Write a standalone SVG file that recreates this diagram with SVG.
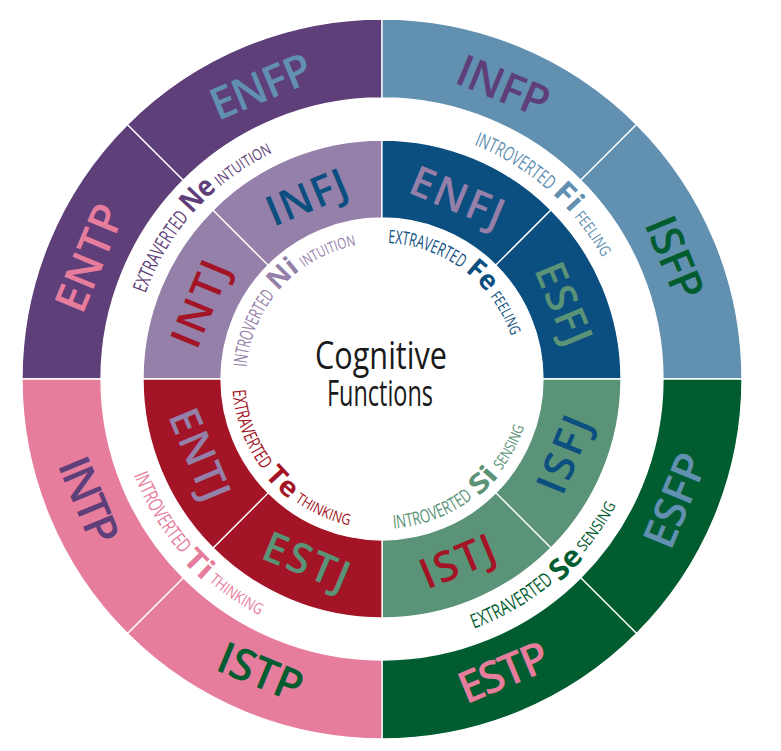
<svg xmlns="http://www.w3.org/2000/svg" xmlns:xlink="http://www.w3.org/1999/xlink" width="781" height="751" viewBox="0 0 781 751">
<style>
.sec{stroke:#fff;stroke-width:1.3;stroke-linejoin:miter}
.big{font-family:"Open Sans","Noto Sans","Liberation Sans",sans-serif;font-weight:600;text-anchor:middle}
.o{font-size:44px}
.i{font-size:42px}
.cv{font-family:"Open Sans","Noto Sans","Liberation Sans",sans-serif;text-anchor:middle}
.w1{font-size:20px;font-weight:500}
.w2{font-size:29px;font-weight:700}
.w3{font-size:15.5px;font-weight:500}
.v1{font-size:18.5px;font-weight:500}
.v2{font-size:27px;font-weight:700}
.v3{font-size:15px;font-weight:500}
.ctr{font-family:"Open Sans","Noto Sans","Liberation Sans",sans-serif;font-weight:500;fill:#1a1a1a}
.dp{fill:#5f3f79}.lp{fill:#9580a9}.sb{fill:#6190b1}.db{fill:#0b4e80}
.pk{fill:#e77d9d}.rd{fill:#a31526}.dg{fill:#015c30}.mg{fill:#5b9378}
</style>
<defs>
<path id="pto" d="M130.5,379 A251.5,251.5 0 0 1 633.5,379"/>
<path id="pti" d="M246,379 A136,136 0 0 1 518,379"/>
<path id="pbo" d="M116,379 A266,266 0 0 0 648,379"/>
<path id="pbob" d="M112,379 A270,270 0 0 0 652,379"/>
<path id="pbi" d="M232,379 A150,150 0 0 0 532,379"/>
<path id="pbib" d="M230,379 A152,152 0 0 0 534,379"/>
</defs>
<rect width="781" height="751" fill="#fff"/>

<!-- outer ring -->
<g id="entp">
<path class="sec dp" d="M22,379 A360,360 0 0 1 127.44,124.44 L183.3,180.3 A281,281 0 0 0 101,379 Z"/>
<text class="big o pk" transform="translate(89.1,257.7) rotate(-67.5)" dy="15.7" textLength="112" lengthAdjust="spacing">ENTP</text>
</g>
<g id="enfp">
<path class="sec dp" d="M127.44,124.44 A360,360 0 0 1 382,19 L382,98 A281,281 0 0 0 183.3,180.3 Z"/>
<text class="big o sb" transform="translate(260.7,86.1) rotate(-22.5)" dy="15.7" textLength="106" lengthAdjust="spacing">ENFP</text>
</g>
<g id="infp">
<path class="sec sb" d="M382,19 A360,360 0 0 1 636.56,124.44 L580.7,180.3 A281,281 0 0 0 382,98 Z"/>
<text class="big o dp" transform="translate(503.3,86.1) rotate(22.5)" dy="15.7" textLength="96" lengthAdjust="spacing">INFP</text>
</g>
<g id="isfp">
<path class="sec sb" d="M636.56,124.44 A360,360 0 0 1 742,379 L663,379 A281,281 0 0 0 580.7,180.3 Z"/>
<text class="big o dg" transform="translate(674.9,257.7) rotate(67.5)" dy="15.7" textLength="86" lengthAdjust="spacing">ISFP</text>
</g>
<g id="esfp">
<path class="sec dg" d="M742,379 A360,360 0 0 1 636.56,633.56 L580.7,577.7 A281,281 0 0 0 663,379 Z"/>
<text class="big o sb" transform="translate(674.9,500.3) rotate(-67.5)" dy="15.7" textLength="98" lengthAdjust="spacing">ESFP</text>
</g>
<g id="estp">
<path class="sec dg" d="M636.56,633.56 A360,360 0 0 1 382,739 L382,660 A281,281 0 0 0 580.7,577.7 Z"/>
<text class="big o pk" transform="translate(503.3,671.9) rotate(-22.5)" dy="15.7" textLength="94" lengthAdjust="spacing">ESTP</text>
</g>
<g id="istp">
<path class="sec pk" d="M382,739 A360,360 0 0 1 127.44,633.56 L183.3,577.7 A281,281 0 0 0 382,660 Z"/>
<text class="big o dg" transform="translate(260.7,671.9) rotate(22.5)" dy="15.7" textLength="88" lengthAdjust="spacing">ISTP</text>
</g>
<g id="intp">
<path class="sec pk" d="M127.44,633.56 A360,360 0 0 1 22,379 L101,379 A281,281 0 0 0 183.3,577.7 Z"/>
<text class="big o dp" transform="translate(89.1,500.3) rotate(67.5)" dy="15.7" textLength="90" lengthAdjust="spacing">INTP</text>
</g>

<!-- inner ring -->
<g id="intj">
<path class="sec lp" d="M143,379 A239,239 0 0 1 213,210 L268.16,265.16 A161,161 0 0 0 221,379 Z"/>
<text class="big i rd" transform="translate(200,303.6) rotate(-67.5)" dy="15" textLength="90" lengthAdjust="spacing">INTJ</text>
</g>
<g id="infj">
<path class="sec lp" d="M213,210 A239,239 0 0 1 382,140 L382,218 A161,161 0 0 0 268.16,265.16 Z"/>
<text class="big i db" transform="translate(306.6,197) rotate(-22.5)" dy="15" textLength="84" lengthAdjust="spacing">INFJ</text>
</g>
<g id="enfj">
<path class="sec db" d="M382,140 A239,239 0 0 1 551,210 L495.84,265.16 A161,161 0 0 0 382,218 Z"/>
<text class="big i lp" transform="translate(457.4,197) rotate(22.5)" dy="15" textLength="98" lengthAdjust="spacing">ENFJ</text>
</g>
<g id="esfj">
<path class="sec db" d="M551,210 A239,239 0 0 1 621,379 L543,379 A161,161 0 0 0 495.84,265.16 Z"/>
<text class="big i mg" transform="translate(564,303.6) rotate(67.5)" dy="15" textLength="86" lengthAdjust="spacing">ESFJ</text>
</g>
<g id="isfj">
<path class="sec mg" d="M621,379 A239,239 0 0 1 551,548 L495.84,492.84 A161,161 0 0 0 543,379 Z"/>
<text class="big i db" transform="translate(564,454.4) rotate(-67.5)" dy="15" textLength="80" lengthAdjust="spacing">ISFJ</text>
</g>
<g id="istj">
<path class="sec mg" d="M551,548 A239,239 0 0 1 382,618 L382,540 A161,161 0 0 0 495.84,492.84 Z"/>
<text class="big i rd" transform="translate(457.4,561) rotate(-22.5)" dy="15" textLength="78" lengthAdjust="spacing">ISTJ</text>
</g>
<g id="estj">
<path class="sec rd" d="M382,618 A239,239 0 0 1 213,548 L268.16,492.84 A161,161 0 0 0 382,540 Z"/>
<text class="big i mg" transform="translate(306.6,561) rotate(22.5)" dy="15" textLength="90" lengthAdjust="spacing">ESTJ</text>
</g>
<g id="entj">
<path class="sec rd" d="M213,548 A239,239 0 0 1 143,379 L221,379 A161,161 0 0 0 268.16,492.84 Z"/>
<text class="big i lp" transform="translate(200,454.4) rotate(67.5)" dy="15" textLength="96" lengthAdjust="spacing">ENTJ</text>
</g>

<!-- outer function labels -->
<g id="ne" class="cv dp">
<text class="w1"><textPath xlink:href="#pto" href="#pto" startOffset="131.35" textLength="88" lengthAdjust="spacingAndGlyphs">EXTRAVERTED</textPath></text>
<text class="w2"><textPath xlink:href="#pto" href="#pto" startOffset="197.35" textLength="36" lengthAdjust="spacingAndGlyphs">Ne</textPath></text>
<text class="w3"><textPath xlink:href="#pto" href="#pto" startOffset="250.35" textLength="62" lengthAdjust="spacingAndGlyphs">INTUITION</textPath></text>
</g>
<g id="fi" class="cv sb">
<text class="w1"><textPath xlink:href="#pto" href="#pto" startOffset="532.98" textLength="88" lengthAdjust="spacingAndGlyphs">INTROVERTED</textPath></text>
<text class="w2"><textPath xlink:href="#pto" href="#pto" startOffset="594.98" textLength="28" lengthAdjust="spacingAndGlyphs">Fi</textPath></text>
<text class="w3"><textPath xlink:href="#pto" href="#pto" startOffset="637.98" textLength="50" lengthAdjust="spacingAndGlyphs">FEELING</textPath></text>
</g>
<g id="ti" class="cv pk">
<text class="w1"><textPath xlink:href="#pbo" href="#pbo" startOffset="144.6" textLength="93.1" lengthAdjust="spacingAndGlyphs">INTROVERTED</textPath></text>
<text class="w2"><textPath xlink:href="#pbob" href="#pbob" startOffset="213.3" textLength="30.1" lengthAdjust="spacingAndGlyphs">Ti</textPath></text>
<text class="w3"><textPath xlink:href="#pbo" href="#pbo" startOffset="259.8" textLength="61.3" lengthAdjust="spacingAndGlyphs">THINKING</textPath></text>
</g>
<g id="se" class="cv dg">
<text class="w1"><textPath xlink:href="#pbo" href="#pbo" startOffset="558" textLength="93.1" lengthAdjust="spacingAndGlyphs">EXTRAVERTED</textPath></text>
<text class="w2"><textPath xlink:href="#pbob" href="#pbob" startOffset="635.1" textLength="34.4" lengthAdjust="spacingAndGlyphs">Se</textPath></text>
<text class="w3"><textPath xlink:href="#pbo" href="#pbo" startOffset="675.4" textLength="57.1" lengthAdjust="spacingAndGlyphs">SENSING</textPath></text>
</g>

<!-- inner function labels -->
<g id="ni" class="cv lp">
<text class="v1"><textPath xlink:href="#pti" href="#pti" startOffset="51.03" textLength="78.33" lengthAdjust="spacingAndGlyphs">INTROVERTED</textPath></text>
<text class="v2"><textPath xlink:href="#pti" href="#pti" startOffset="110.37" textLength="30.86" lengthAdjust="spacingAndGlyphs">Ni</textPath></text>
<text class="v3"><textPath xlink:href="#pti" href="#pti" startOffset="159.03" textLength="56.97" lengthAdjust="spacingAndGlyphs">INTUITION</textPath></text>
</g>
<g id="fe" class="cv db">
<text class="v1"><textPath xlink:href="#pti" href="#pti" startOffset="258.73" textLength="78.33" lengthAdjust="spacingAndGlyphs">EXTRAVERTED</textPath></text>
<text class="v2"><textPath xlink:href="#pti" href="#pti" startOffset="318.07" textLength="30.86" lengthAdjust="spacingAndGlyphs">Fe</textPath></text>
<text class="v3"><textPath xlink:href="#pti" href="#pti" startOffset="360.79" textLength="45.1" lengthAdjust="spacingAndGlyphs">FEELING</textPath></text>
</g>
<g id="te" class="cv rd">
<text class="v1"><textPath xlink:href="#pbi" href="#pbi" startOffset="54.58" textLength="86.39" lengthAdjust="spacingAndGlyphs">EXTRAVERTED</textPath></text>
<text class="v2"><textPath xlink:href="#pbib" href="#pbib" startOffset="121.63" textLength="34.49" lengthAdjust="spacingAndGlyphs">Te</textPath></text>
<text class="v3"><textPath xlink:href="#pbi" href="#pbi" startOffset="172.39" textLength="60.21" lengthAdjust="spacingAndGlyphs">THINKING</textPath></text>
</g>
<g id="si" class="cv mg">
<text class="v1"><textPath xlink:href="#pbi" href="#pbi" startOffset="290.2" textLength="86.39" lengthAdjust="spacingAndGlyphs">INTROVERTED</textPath></text>
<text class="v2"><textPath xlink:href="#pbib" href="#pbib" startOffset="357.74" textLength="29.18" lengthAdjust="spacingAndGlyphs">Si</textPath></text>
<text class="v3"><textPath xlink:href="#pbi" href="#pbi" startOffset="397.54" textLength="49.74" lengthAdjust="spacingAndGlyphs">SENSING</textPath></text>
</g>

<g id="center">
<text class="ctr" x="315" y="369" font-size="39" textLength="132" lengthAdjust="spacingAndGlyphs">Cognitive</text>
<text class="ctr" x="327" y="406" font-size="36" textLength="106" lengthAdjust="spacingAndGlyphs">Functions</text>
</g>
</svg>
